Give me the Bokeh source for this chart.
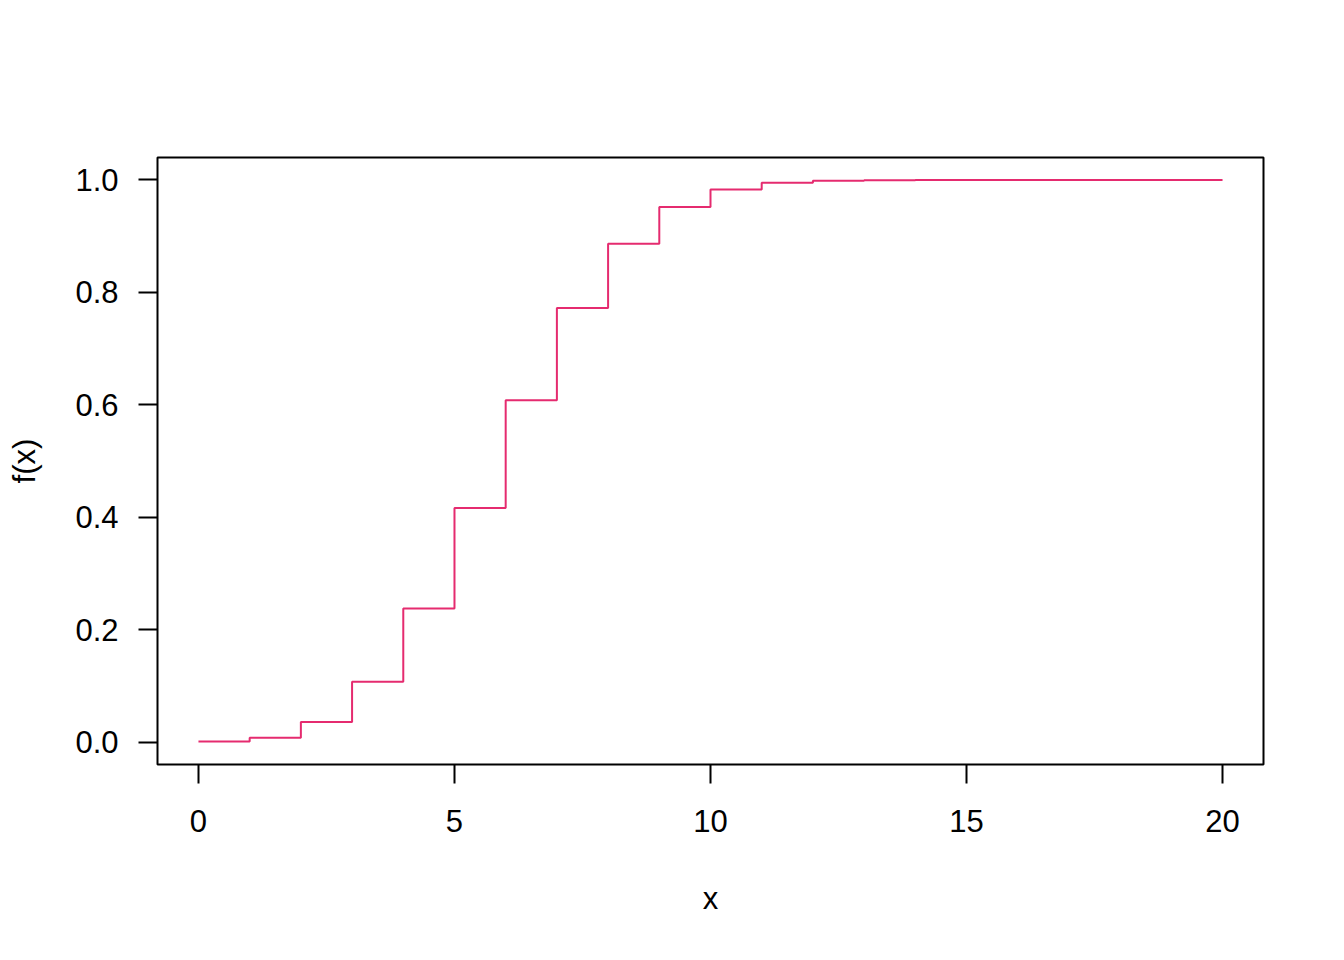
from bokeh.plotting import figure
from bokeh.models import FixedTicker, Range1d
from bokeh.embed import file_html
from bokeh.resources import INLINE

x_vals = list(range(0, 21))
cdf_vals = [0.0008, 0.0076, 0.0355, 0.1071, 0.2375, 0.4164, 0.6080, 0.7723,
            0.8867, 0.9520, 0.9829, 0.9949, 0.9987, 0.9997, 1.0000, 1.0000,
            1.0000, 1.0000, 1.0000, 1.0000, 1.0000]
x_ticks = [0, 5, 10, 15, 20]
y_ticks = [0.0, 0.2, 0.4, 0.6, 0.8, 1.0]
y_tick_labels = {0.0: "0.0", 0.2: "0.2", 0.4: "0.4", 0.6: "0.6", 0.8: "0.8", 1.0: "1.0"}

FONT = "Liberation Sans"

p = figure(width=1328, height=944, output_backend="svg", toolbar_location=None,
           x_range=Range1d(-0.8, 20.8), y_range=Range1d(-0.04, 1.04),
           min_border_left=157, min_border_right=65, min_border_top=157,
           min_border_bottom=180)
p.background_fill_color = "white"
p.border_fill_color = "white"
p.outline_line_color = "black"
p.outline_line_width = 2
p.grid.visible = False

p.step(x_vals, cdf_vals, mode="after", line_color="#E52B6F", line_width=2)

for ax in (p.xaxis[0], p.yaxis[0]):
    ax.axis_line_color = None
    ax.major_tick_in = 0
    ax.major_tick_out = 19
    ax.major_tick_line_width = 2
    ax.major_tick_line_color = "black"
    ax.minor_tick_line_color = None
    ax.major_label_text_font = FONT
    ax.major_label_text_font_size = "31px"
    ax.major_label_text_color = "black"
    ax.axis_label_text_font = FONT
    ax.axis_label_text_font_size = "31px"
    ax.axis_label_text_font_style = "normal"
    ax.axis_label_text_color = "black"

p.xaxis[0].ticker = FixedTicker(ticks=x_ticks)
p.yaxis[0].ticker = FixedTicker(ticks=y_ticks)
p.yaxis[0].major_label_overrides = y_tick_labels
p.yaxis[0].major_label_orientation = 0
p.xaxis[0].axis_label = "x"
p.yaxis[0].axis_label = "f(x)"
p.xaxis[0].major_label_standoff = 26
p.yaxis[0].major_label_standoff = 20
p.xaxis[0].axis_label_standoff = 46
p.yaxis[0].axis_label_standoff = 30

open("out.html", "w").write(file_html(p, INLINE))
